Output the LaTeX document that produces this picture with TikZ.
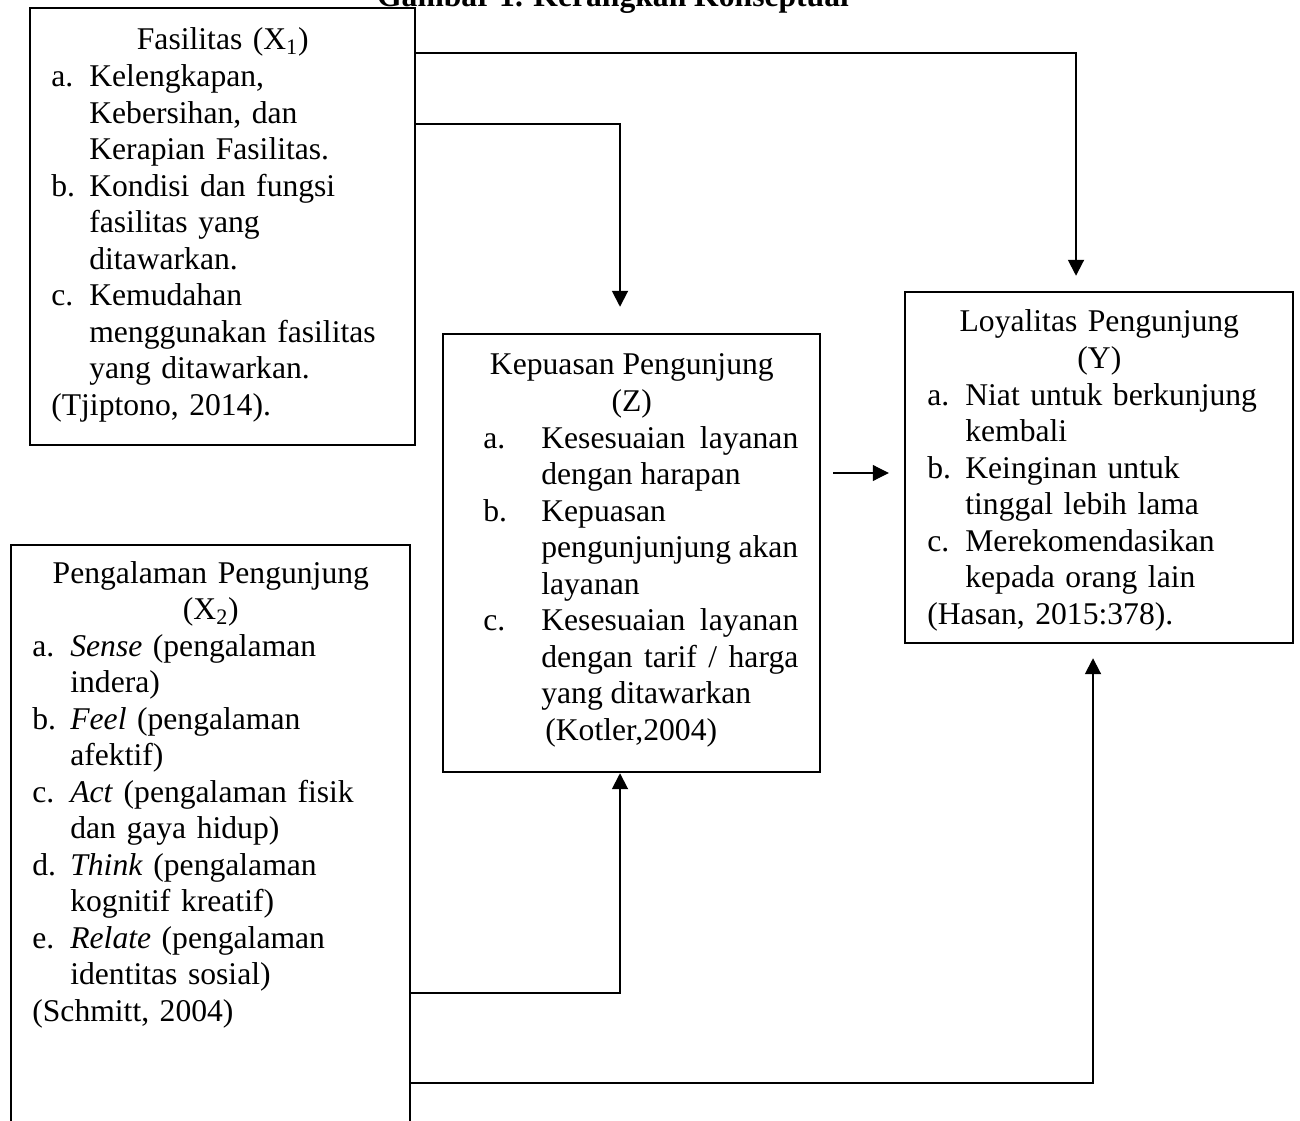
\documentclass[tikz,border=0pt]{standalone}
\usepackage{fontspec}
\setmainfont{Liberation Serif}
\usetikzlibrary{arrows.meta,fit}

\newcommand{\butir}[3][0.76cm]{\par\hangindent=#1\hangafter=1\noindent\makebox[#1][l]{#2}#3}

\begin{document}
\begin{tikzpicture}[x=0.02cm, y=-0.02cm, >={Triangle[width=0.32cm,length=0.32cm]},
  kotak/.style={draw, line width=1.4pt, inner sep=0pt},
  isi/.style={anchor=base west, inner sep=0pt, font=\fontsize{18}{20.8}\selectfont},
  garis/.style={line width=1.1pt}]
\useasboundingbox (0,0) rectangle (1300,1121);

\node[anchor=base, inner sep=0pt, font=\bfseries\fontsize{18}{20.8}\selectfont] (judul) at (613,7) {Gambar 1. Kerangkan Konseptual};

% kotak
\node[kotak, fit={(30,8) (415,445)}] (x1) {};
\node[kotak, fit={(443,334) (820,772)}] (z) {};
\node[kotak, fit={(905,292) (1293,643)}] (y) {};
\node[kotak, fit={(11,545) (410,1150)}] (x2) {};

% isi kotak
\node[isi, text width=6.86cm] (x1t) at (51,50) {%
{\centering Fasilitas (X\textsubscript{1})\par}
\raggedright
\butir{a.}{Kelengkapan,\newline Kebersihan, dan\newline Kerapian Fasilitas.}
\butir{b.}{Kondisi dan fungsi\newline fasilitas yang\newline ditawarkan.}
\butir{c.}{Kemudahan\newline menggunakan fasilitas\newline yang ditawarkan.}
\par\noindent(Tjiptono, 2014).};

\node[isi, text width=6.66cm, align=justify] (zt) at (465,375) {%
{\centering Kepuasan Pengunjung\\(Z)\par}
\leftskip=0.36cm
\butir[1.16cm]{a.}{Kesesuaian layanan\linebreak dengan harapan}
\butir[1.16cm]{b.}{Kepuasan\newline pengunjunjung akan\linebreak layanan}
\butir[1.16cm]{c.}{Kesesuaian layanan\linebreak dengan tarif / harga\linebreak yang ditawarkan\newline\hspace*{0.08cm}(Kotler,2004)}\par};

\node[isi, text width=6.88cm] (yt) at (927,332) {%
{\centering Loyalitas Pengunjung\\(Y)\par}
\raggedright
\butir{a.}{Niat untuk berkunjung\newline kembali}
\butir{b.}{Keinginan untuk\newline tinggal lebih lama}
\butir{c.}{Merekomendasikan\newline kepada orang lain}
\par\noindent(Hasan, 2015:378).};

\node[isi, text width=7.14cm] (x2t) at (32,583) {%
{\centering Pengalaman Pengunjung\\(X\textsubscript{2})\par}
\raggedright
\butir{a.}{\textit{Sense} (pengalaman\newline indera)}
\butir{b.}{\textit{Feel} (pengalaman\newline afektif)}
\butir{c.}{\textit{Act} (pengalaman fisik\newline dan gaya hidup)}
\butir{d.}{\textit{Think} (pengalaman\newline kognitif kreatif)}
\butir{e.}{\textit{Relate} (pengalaman\newline identitas sosial)}
\par\noindent(Schmitt, 2004)};

% panah
\draw[garis, ->, shorten >=0.3cm] (x1.east |- 0,53) -| (y.north -| 1076,0);
\draw[garis, ->, shorten >=0.52cm] (x1.east |- 0,124) -| (z.north -| 620,0);
\draw[line width=0.6pt, ->, shorten <=0.24cm, shorten >=0.3cm] (z.east |- 0,473) -- (y.west |- 0,473);
\draw[garis, ->] (x2.east |- 0,993) -| (z.south -| 620,0);
\draw[garis, ->, shorten >=0.28cm] (x2.east |- 0,1083) -| (y.south -| 1093,0);
\end{tikzpicture}
\end{document}
